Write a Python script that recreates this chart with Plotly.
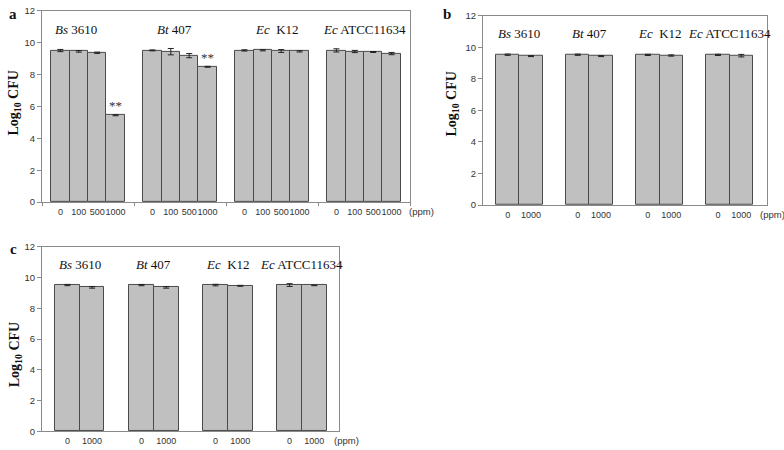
import plotly.graph_objects as go

# ---------------- data ----------------
strain_labels = ["<i>Bs</i> 3610", "<i>Bt</i> 407", "<i>Ec</i>  K12", "<i>Ec</i> ATCC11634"]

conc_a = ["0", "100", "500", "1000"]
a_means = [[9.51, 9.46, 9.37, 5.45],
           [9.52, 9.44, 9.19, 8.49],
           [9.52, 9.53, 9.48, 9.46],
           [9.52, 9.45, 9.42, 9.32]]
a_err = [[0.07, 0.05, 0.04, 0.03],
         [0.03, 0.20, 0.13, 0.03],
         [0.04, 0.04, 0.09, 0.04],
         [0.10, 0.07, 0.03, 0.07]]
a_sig = [[False, False, False, True],
         [False, False, False, True],
         [False, False, False, False],
         [False, False, False, False]]

conc_bc = ["0", "1000"]
b_means = [[9.53, 9.44], [9.53, 9.44], [9.52, 9.48], [9.52, 9.47]]
b_err = [[0.04, 0.03], [0.04, 0.03], [0.04, 0.04], [0.04, 0.08]]

c_means = [[9.52, 9.37], [9.52, 9.37], [9.52, 9.47], [9.52, 9.50]]
c_err = [[0.04, 0.05], [0.04, 0.05], [0.05, 0.03], [0.09, 0.02]]

y_ticks = [0, 2, 4, 6, 8, 10, 12]

# ---------------- style ----------------
BAR_FILL = "#c0c0c0"
BAR_LINE = "#4a4a4a"
AXIS_COL = "#8a8a8a"
XTICK_FONT = dict(family="Liberation Sans, Arial", size=9, color="#333333")
YTICK_FONT = dict(family="Liberation Sans, Arial", size=9.5, color="#333333")
SERIF = "Liberation Serif, Times New Roman"

fig = go.Figure()
annotations = []


def add_panel(idx, means, errs, concs, slot, label_offsets, sig=None):
    suffix = "" if idx == 1 else str(idx)
    xs, ys, es, tv, tt = [], [], [], [], []
    for g, (mrow, erow) in enumerate(zip(means, errs)):
        for j, (m, e) in enumerate(zip(mrow, erow)):
            x = g * slot + 1 + j
            xs.append(x); ys.append(m); es.append(e)
            tv.append(x); tt.append(concs[j])
            if sig is not None and sig[g][j]:
                annotations.append(dict(
                    x=x, y=m, xref="x" + suffix, yref="y" + suffix,
                    text="**", showarrow=False, yanchor="bottom", yshift=0,
                    font=dict(family=SERIF, size=13, color="#333333")))
    fig.add_trace(go.Bar(
        x=xs, y=ys, width=1.0,
        marker=dict(color=BAR_FILL, line=dict(color=BAR_LINE, width=1)),
        error_y=dict(type="data", array=es, visible=True, color="#222222",
                     thickness=1, width=3),
        xaxis="x" + suffix, yaxis="y" + suffix, showlegend=False))
    n_in = len(concs)
    for g, lab in enumerate(strain_labels):
        cx = g * slot + 1 + (n_in - 1) / 2 + label_offsets[g]
        annotations.append(dict(
            x=cx, y=10.85, xref="x" + suffix, yref="y" + suffix, text=lab,
            showarrow=False, font=dict(family=SERIF, size=13, color="#111111")))
    return tv, tt


tv_a, tt_a = add_panel(1, a_means, a_err, conc_a, 5, [-0.65, -0.3, 0.25, 0.0], sig=a_sig)
tv_b, tt_b = add_panel(2, b_means, b_err, conc_bc, 3, [0, 0, 0, 0])
tv_c, tt_c = add_panel(3, c_means, c_err, conc_bc, 3, [0, 0, 0, 0])

W, H = 784, 450


def dom_x(a, b):
    return [a / W, b / W]


def dom_y(top, bottom):
    return [1 - bottom / H, 1 - top / H]


def xaxis(domain, rng, tv, tt, anchor, minor_vals=None):
    d = dict(domain=domain, range=rng, anchor=anchor, tickmode="array",
             tickvals=tv, ticktext=tt, ticks="", tickangle=0, showgrid=False,
             zeroline=False, showline=True, linecolor=AXIS_COL, linewidth=1,
             mirror=True, tickfont=XTICK_FONT, ticklabelstandoff=1)
    if minor_vals is not None:
        d["minor"] = dict(tickmode="array", tickvals=minor_vals, ticks="outside",
                          ticklen=3, tickcolor=AXIS_COL, showgrid=False)
    return d


def yaxis(domain, anchor):
    return dict(domain=domain, range=[0, 12], anchor=anchor, tickmode="array",
                tickvals=y_ticks, ticks="outside", ticklen=4, tickcolor=AXIS_COL,
                showgrid=False, zeroline=False, showline=True, linecolor=AXIS_COL,
                linewidth=1, mirror=True, tickfont=YTICK_FONT)


fig.update_layout(
    xaxis=xaxis(dom_x(42, 410), [0, 20], tv_a, tt_a, "y", minor_vals=[0, 5, 10, 15, 20]),
    yaxis=yaxis(dom_y(5, 201), "x"),
    xaxis2=xaxis(dom_x(483, 767), [-0.056, 12.1], tv_b, tt_b, "y2"),
    yaxis2=yaxis(dom_y(10, 204), "x2"),
    xaxis3=xaxis(dom_x(42, 339), [-0.03, 12.0], tv_c, tt_c, "y3"),
    yaxis3=yaxis(dom_y(247, 436), "x3"),
    bargap=0,
    width=W, height=H,
    margin=dict(l=0, r=0, t=0, b=0),
    plot_bgcolor="white", paper_bgcolor="white",
)

for suffix, xs in [("", -3), ("2", -9), ("3", -7)]:
    annotations.append(dict(
        x=1, y=0, xref=f"x{suffix} domain", yref=f"y{suffix} domain",
        text="(ppm)", showarrow=False, xanchor="left", yanchor="middle",
        xshift=xs, yshift=-9, font=YTICK_FONT))

for letter, px, py in [("a", 13, 8), ("b", 447, 8), ("c", 13, 249)]:
    annotations.append(dict(
        x=px / W, y=1 - py / H, xref="paper", yref="paper", text=f"<b>{letter}</b>",
        showarrow=False, xanchor="center", yanchor="middle",
        font=dict(family=SERIF, size=15, color="#111111")))

for px, py in [(15, 100), (453, 100), (15, 358)]:
    annotations.append(dict(
        x=px / W, y=1 - py / H, xref="paper", yref="paper",
        text="<b>Log<sub>10</sub> CFU</b>", textangle=-90, showarrow=False,
        xanchor="center", yanchor="middle",
        font=dict(family=SERIF, size=14, color="#111111")))

fig.update_layout(annotations=annotations)
fig.write_html("out.html", config={"displayModeBar": False},
               post_script="document.body.style.margin='0';document.body.style.overflow='hidden';")
